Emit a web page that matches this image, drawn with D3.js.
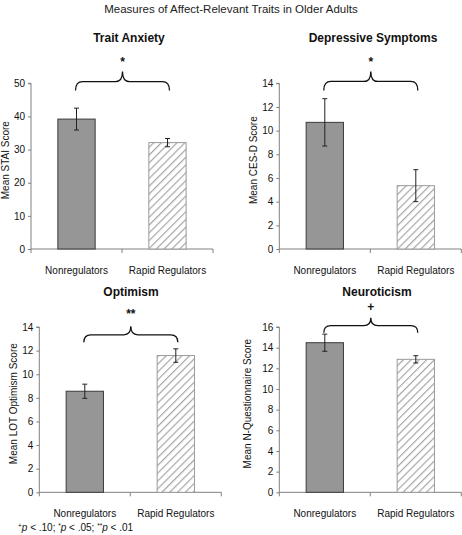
<!DOCTYPE html>
<html>
<head>
<meta charset="utf-8">
<script src="https://cdn.jsdelivr.net/npm/d3@7"></script>
<style>
  html, body { margin: 0; padding: 0; background: #fff; }
  svg { display: block; font-family: "Liberation Sans", Arial, sans-serif; }
</style>
</head>
<body>
<svg id="chart" width="462" height="535"></svg>
<script>
// ---- data ----
const mainTitle = "Measures of Affect-Relevant Traits in Older Adults";
const categories = ["Nonregulators", "Rapid Regulators"];
const panelTitles = ["Trait Anxiety", "Depressive Symptoms", "Optimism", "Neuroticism"];
const yLabels = ["Mean STAI Score", "Mean CES-D Score", "Mean LOT Optimism Score", "Mean N-Questionnaire Score"];
const means = [[39.2, 32.1], [10.7, 5.35], [8.56, 11.58], [14.48, 12.87]];
const errors = [[3.3, 1.25], [2.0, 1.35], [0.6, 0.57], [0.83, 0.35]];
const yMax = [50, 14, 14, 16];
const yStep = [10, 2, 2, 2];
const sigMarks = ["*", "*", "**", "+"];
const braceLevel = [47.8, 13.4, 12.7, 15.45]; // brace end heights in data units

// ---- layout ----
const layout = [
  { x0: 31, x1: 213, yTop: 83.3, yBot: 249, titleX: 129, titleY: 42, labelX: 5, sigY: 66, braceH: 19 },
  { x0: 279.3, x1: 461.3, yTop: 83.3, yBot: 249, titleX: 373, titleY: 42, labelX: 253, sigY: 66, braceH: 19 },
  { x0: 39.3, x1: 221.3, yTop: 327, yBot: 492.3, titleX: 131, titleY: 296, labelX: 13, sigY: 318, braceH: 16 },
  { x0: 279.3, x1: 461.3, yTop: 327, yBot: 492.3, titleX: 377, titleY: 296, labelX: 247, sigY: 311, braceH: 15 }
];

const svg = d3.select("#chart");

// hatch pattern
const defs = svg.append("defs");
const pat = defs.append("pattern")
  .attr("id", "hatch")
  .attr("patternUnits", "userSpaceOnUse")
  .attr("width", 5.5).attr("height", 5.5)
  .attr("patternTransform", "rotate(45)");
pat.append("rect").attr("width", 5.5).attr("height", 5.5).attr("fill", "#fff");
pat.append("line").attr("x1", 0).attr("y1", 0).attr("x2", 0).attr("y2", 5.5)
  .attr("stroke", "#a3a3a3").attr("stroke-width", 2.3);

svg.append("text")
  .attr("x", 231).attr("y", 13)
  .attr("text-anchor", "middle")
  .attr("font-size", 11.5)
  .attr("fill", "#222")
  .text(mainTitle);

layout.forEach((L, i) => {
  const g = svg.append("g");
  const x = d3.scaleBand().domain(categories).range([L.x0, L.x1]).paddingInner(0.59).paddingOuter(0.295);
  const y = d3.scaleLinear().domain([0, yMax[i]]).range([L.yBot, L.yTop]);

  // y axis
  const yAxis = d3.axisLeft(y).tickValues(d3.range(0, yMax[i] + 0.001, yStep[i])).tickSize(3).tickPadding(3);
  const ya = g.append("g").attr("transform", `translate(${L.x0},0)`).call(yAxis);
  ya.select(".domain").attr("stroke", "#808080").attr("d", `M-3,${L.yTop}H0V${L.yBot}`);
  ya.selectAll(".tick line").attr("stroke", "#808080");
  ya.selectAll(".tick text").attr("font-size", 10).attr("fill", "#111").attr("font-family", "Liberation Sans, Arial, sans-serif");

  // x axis
  const xa = g.append("g").attr("transform", `translate(0,${L.yBot})`);
  xa.append("line").attr("x1", L.x0).attr("x2", L.x1).attr("stroke", "#808080");
  const edges = [L.x0, (L.x0 + L.x1) / 2, L.x1];
  xa.selectAll("line.tk").data(edges).enter().append("line").attr("class", "tk")
    .attr("x1", d => d).attr("x2", d => d).attr("y1", 0).attr("y2", 4).attr("stroke", "#808080");
  xa.selectAll("text").data(categories).enter().append("text")
    .attr("x", d => x(d) + x.bandwidth() / 2)
    .attr("y", 25)
    .attr("text-anchor", "middle")
    .attr("font-size", 10)
    .attr("fill", "#111")
    .text(d => d);

  // bars
  g.selectAll("rect.bar").data(means[i]).enter().append("rect")
    .attr("class", "bar")
    .attr("x", (d, j) => x(categories[j]))
    .attr("width", x.bandwidth())
    .attr("y", d => y(d))
    .attr("height", d => L.yBot - y(d))
    .attr("fill", (d, j) => j === 0 ? "#969696" : "url(#hatch)")
    .attr("stroke", (d, j) => j === 0 ? "#3a3a3a" : "#9a9a9a")
    .attr("stroke-width", 1);

  // error bars
  means[i].forEach((m, j) => {
    const cx = x(categories[j]) + x.bandwidth() / 2;
    const e = errors[i][j];
    g.append("line").attr("x1", cx).attr("x2", cx).attr("y1", y(m + e)).attr("y2", y(m - e)).attr("stroke", "#222");
    [m + e, m - e].forEach(v => {
      g.append("line").attr("x1", cx - 2.5).attr("x2", cx + 2.5).attr("y1", y(v)).attr("y2", y(v)).attr("stroke", "#222");
    });
  });

  // title
  svg.append("text").attr("x", L.titleX).attr("y", L.titleY)
    .attr("text-anchor", "middle").attr("font-size", 12).attr("font-weight", "bold")
    .attr("fill", "#111").text(panelTitles[i]);

  // y label
  const ymid = (L.yTop + L.yBot) / 2 - 6;
  svg.append("text")
    .attr("transform", `translate(${L.labelX},${ymid}) rotate(-90)`)
    .attr("text-anchor", "middle").attr("dy", "0.35em")
    .attr("font-size", 10).attr("fill", "#111").text(yLabels[i]);

  // brace
  const c1 = x(categories[0]) + x.bandwidth() / 2 - 1;
  const c2 = x(categories[1]) + x.bandwidth() / 2 + 2;
  const cm = (c1 + c2) / 2;
  const yb = y(braceLevel[i]);
  const yh = yb - L.braceH * 0.47;
  const yt = yb - L.braceH;
  const r = 7;
  const p = `M${c1},${yb} Q${c1},${yh} ${c1 + r},${yh} L${cm - r},${yh} Q${cm},${yh} ${cm},${yt} Q${cm},${yh} ${cm + r},${yh} L${c2 - r},${yh} Q${c2},${yh} ${c2},${yb}`;
  g.append("path").attr("d", p).attr("fill", "none").attr("stroke", "#111").attr("stroke-width", 1.3);

  svg.append("text").attr("x", cm).attr("y", L.sigY)
    .attr("text-anchor", "middle").attr("font-size", 12)
    .attr("font-weight", "bold").attr("fill", "#111").text(sigMarks[i]);
});

// footnote
const fn = svg.append("text").attr("x", 18).attr("y", 531).attr("font-size", 10).attr("fill", "#111");
fn.append("tspan").attr("font-size", 6.5).attr("dy", -3).text("+");
fn.append("tspan").attr("font-style", "italic").attr("dy", 3).text("p");
fn.append("tspan").text(" < .10; ");
fn.append("tspan").attr("font-size", 6.5).attr("dy", -3).text("*");
fn.append("tspan").attr("font-style", "italic").attr("dy", 3).text("p");
fn.append("tspan").text(" < .05; ");
fn.append("tspan").attr("font-size", 6.5).attr("dy", -3).text("**");
fn.append("tspan").attr("font-style", "italic").attr("dy", 3).text("p");
fn.append("tspan").text(" < .01");
</script>
</body>
</html>
